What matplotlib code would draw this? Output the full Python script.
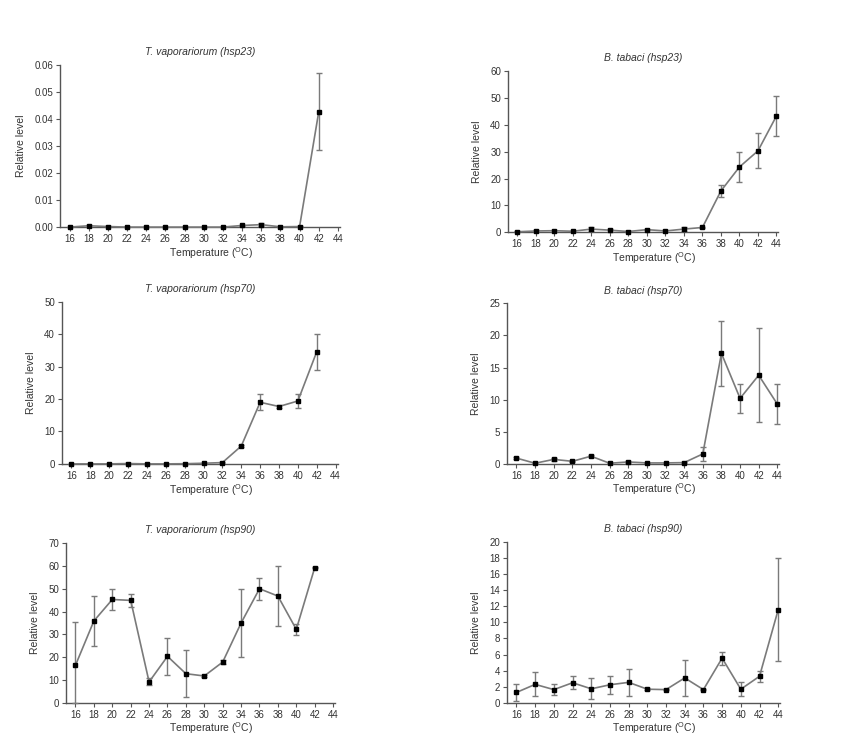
import numpy as np
import matplotlib
matplotlib.use("Agg")
import matplotlib.pyplot as plt

plt.rcParams["font.family"] = ["Liberation Sans", "DejaVu Sans"]

# temperatures (degrees C)
temp_tv = [16, 18, 20, 22, 24, 26, 28, 30, 32, 34, 36, 38, 40, 42]
temp_bt = [16, 18, 20, 22, 24, 26, 28, 30, 32, 34, 36, 38, 40, 42, 44]

# T. vaporariorum hsp23
tv23 = [0.0, 0.0005, 0.0002, 0.0, 0.0, 0.0, 0.0, 0.0, 0.0, 0.0006, 0.0009, 0.0001, 0.0002, 0.0427]
tv23_err = [0.0001, 0.0003, 0.0002, 0.0, 0.0, 0.0, 0.0, 0.0, 0.0, 0.0003, 0.0006, 0.0001, 0.0002, 0.0143]

# B. tabaci hsp23
bt23 = [0.2, 0.5, 0.6, 0.4, 1.2, 0.8, 0.3, 1.0, 0.5, 1.2, 1.8, 15.4, 24.3, 30.3, 43.3]
bt23_err = [0.2, 0.3, 0.4, 0.2, 0.8, 0.5, 0.2, 0.3, 0.3, 0.6, 0.3, 2.3, 5.7, 6.5, 7.4]

# T. vaporariorum hsp70
tv70 = [0.0, 0.0, 0.0, 0.1, 0.0, 0.0, 0.05, 0.2, 0.4, 5.5, 19.0, 17.7, 19.4, 34.6]
tv70_err = [0.0, 0.0, 0.0, 0.1, 0.0, 0.0, 0.05, 0.1, 0.2, 0.4, 2.5, 0.4, 2.2, 5.6]

# B. tabaci hsp70
bt70 = [0.9, 0.1, 0.7, 0.4, 1.2, 0.1, 0.3, 0.15, 0.15, 0.2, 1.55, 17.2, 10.2, 13.8, 9.3]
bt70_err = [0.1, 0.1, 0.2, 0.1, 0.2, 0.05, 0.1, 0.05, 0.05, 0.1, 1.1, 5.1, 2.3, 7.3, 3.1]

# T. vaporariorum hsp90
tv90 = [16.5, 35.9, 45.3, 44.9, 9.2, 20.4, 12.8, 11.8, 17.9, 35.0, 50.0, 46.8, 32.2, 59.2]
tv90_err = [19.0, 11.0, 4.6, 3.0, 1.5, 8.2, 10.2, 0.5, 1.0, 15.0, 4.8, 13.0, 2.4, 0.3]

# B. tabaci hsp90
bt90 = [1.3, 2.3, 1.65, 2.5, 1.75, 2.25, 2.55, 1.7, 1.65, 3.1, 1.65, 5.55, 1.7, 3.3, 11.55]
bt90_err = [1.1, 1.5, 0.7, 0.8, 1.3, 1.1, 1.65, 0.1, 0.1, 2.2, 0.1, 0.8, 0.85, 0.65, 6.4]

xticks = list(range(16, 45, 2))

LINE_C = "#7a7a7a"
AXIS_C = "#555555"
TEXT_C = "#333333"

panels = [
    # rect, x, y, err, title, ylim, yticks, yfmt
    ([0.0697, 0.696, 0.325, 0.217], temp_tv, tv23, tv23_err, "T. vaporariorum (hsp23)",
     (0, 0.06), np.arange(0, 0.061, 0.01), "{:.2f}"),
    ([0.590, 0.689, 0.314, 0.216], temp_bt, bt23, bt23_err, "B. tabaci (hsp23)",
     (0, 60), np.arange(0, 61, 10), "{:.0f}"),
    ([0.072, 0.379, 0.320, 0.217], temp_tv, tv70, tv70_err, "T. vaporariorum (hsp70)",
     (0, 50), np.arange(0, 51, 10), "{:.0f}"),
    ([0.589, 0.379, 0.316, 0.215], temp_bt, bt70, bt70_err, "B. tabaci (hsp70)",
     (0, 25), np.arange(0, 26, 5), "{:.0f}"),
    ([0.077, 0.059, 0.312, 0.214], temp_tv, tv90, tv90_err, "T. vaporariorum (hsp90)",
     (0, 70), np.arange(0, 71, 10), "{:.0f}"),
    ([0.589, 0.059, 0.317, 0.216], temp_bt, bt90, bt90_err, "B. tabaci (hsp90)",
     (0, 20), np.arange(0, 21, 2), "{:.0f}"),
]

fig = plt.figure(figsize=(8.61, 7.47), dpi=100, facecolor="white")

for rect, x, y, err, title, ylim, yticks, yfmt in panels:
    ax = fig.add_axes(rect)
    # lower whisker stops at the axis line
    lower = np.minimum(np.array(err), np.array(y))
    ax.errorbar(x, y, yerr=[lower, err], color=LINE_C, ecolor=LINE_C, elinewidth=1.0,
                capsize=2.5, capthick=1.0, linewidth=1.2, marker="s",
                markersize=2.8, markerfacecolor="black", markeredgecolor="black",
                clip_on=False, zorder=3)
    ax.set_xlim(15, 44.2)
    ax.set_ylim(*ylim)
    ax.set_xticks(xticks)
    ax.set_yticks(yticks)
    ax.set_yticklabels([yfmt.format(v) for v in yticks])
    for s in ("top", "right"):
        ax.spines[s].set_visible(False)
    for s in ("left", "bottom"):
        ax.spines[s].set_color(AXIS_C)
        ax.spines[s].set_linewidth(1.0)
    ax.tick_params(axis="both", colors=AXIS_C, labelcolor=TEXT_C, labelsize=7,
                   length=3, width=0.8, pad=2)
    ax.set_title(title, fontsize=7.5, style="italic", color=TEXT_C, pad=7)
    ax.set_xlabel(r"Temperature ($\mathregular{^{O}}$C)", fontsize=7.5,
                  color=TEXT_C, labelpad=1)
    ax.xaxis.set_label_coords(0.54, -0.11)
    ax.set_ylabel("Relative level", fontsize=7.5, color=TEXT_C, labelpad=6)

fig.savefig("out.png", dpi=100, facecolor="white")
